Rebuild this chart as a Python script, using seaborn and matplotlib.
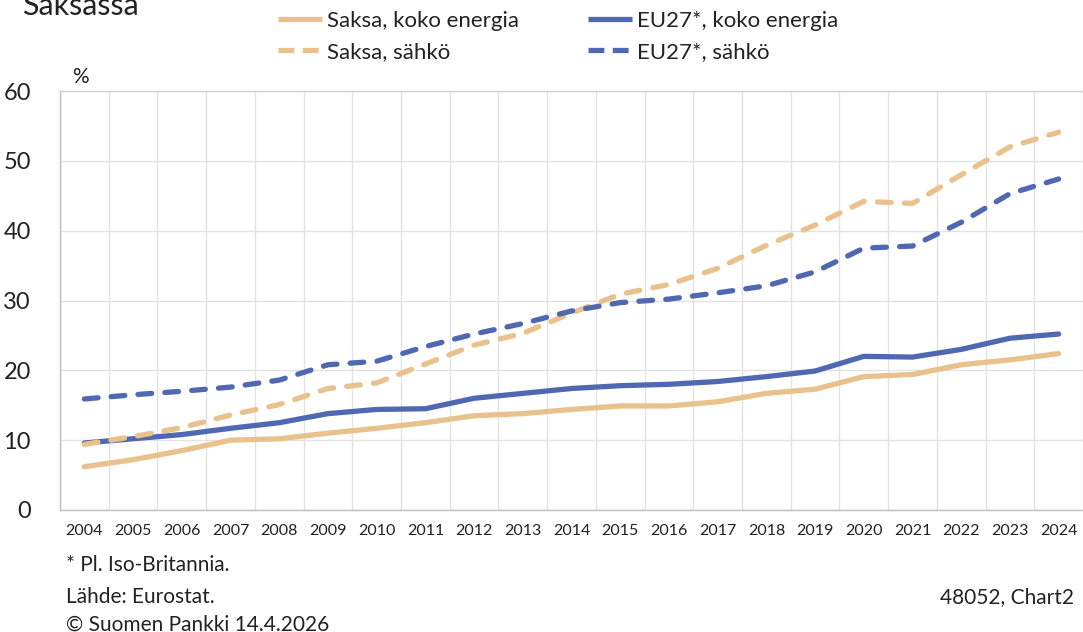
import matplotlib
matplotlib.use("Agg")
import matplotlib.pyplot as plt
from matplotlib.lines import Line2D
import numpy as np
import pandas as pd
import seaborn as sns

years = list(range(2004, 2025))
de_total = [6.2, 7.2, 8.5, 10.0, 10.2, 11.0, 11.7, 12.5, 13.5, 13.8, 14.4,
            14.9, 14.9, 15.5, 16.7, 17.3, 19.1, 19.4, 20.8, 21.5, 22.4]
eu_total = [9.6, 10.2, 10.8, 11.7, 12.5, 13.8, 14.4, 14.5, 16.0, 16.7, 17.4,
            17.8, 18.0, 18.4, 19.1, 19.9, 22.0, 21.9, 23.0, 24.6, 25.2]
de_elec = [9.4, 10.5, 11.8, 13.6, 15.1, 17.4, 18.2, 20.9, 23.6, 25.3, 28.2,
           30.9, 32.3, 34.6, 37.9, 40.8, 44.2, 43.9, 48.0, 52.0, 54.1]
eu_elec = [15.9, 16.5, 17.0, 17.6, 18.6, 20.8, 21.3, 23.4, 25.2, 26.7, 28.5,
           29.7, 30.2, 31.1, 32.1, 34.1, 37.5, 37.8, 41.2, 45.3, 47.4]
series_names = ["Saksa, koko energia", "EU27*, koko energia",
                "Saksa, sähkö", "EU27*, sähkö"]
yticks = [0, 10, 20, 30, 40, 50, 60]

TAN = "#E8C18C"
BLUE = "#5068B2"

sns.set_theme(style="white")
plt.rcParams['font.family'] = ['Lato', 'DejaVu Sans']

rows = []
for name, vals in zip(series_names, [de_total, eu_total, de_elec, eu_elec]):
    for i, (yr, v) in enumerate(zip(years, vals)):
        rows.append({"pos": i, "year": yr, "value": v, "series": name})
df = pd.DataFrame(rows)

fig = plt.figure(figsize=(10.83, 6.32), dpi=100)
ax = fig.add_axes([60 / 1083, 1 - 510 / 632, 1 - 60 / 1083, (510 - 91) / 632])

palette = {series_names[0]: TAN, series_names[1]: BLUE,
           series_names[2]: TAN, series_names[3]: BLUE}
dash_on = (2.6, 2.5)
dashes = {series_names[0]: "", series_names[1]: "",
          series_names[2]: dash_on, series_names[3]: dash_on}

sns.lineplot(data=df, x="pos", y="value", hue="series", style="series",
             palette=palette, dashes=dashes, linewidth=3.8, ax=ax,
             legend=False, sort=False)
for ln in ax.lines:
    ln.set_dash_capstyle("round")
    ln.set_solid_capstyle("round")

ax.set_xlim(-0.5, len(years) - 0.5)
ax.set_ylim(0, 60)
ax.set_yticks(yticks)
ax.set_yticklabels([str(t) for t in yticks], fontsize=17, color="#222222")
ax.set_xticks(range(len(years)))
ax.set_xticklabels([str(y) for y in years], fontsize=11.5, color="#222222")
ax.set_xticks(np.arange(-0.5, len(years), 1.0), minor=True)
ax.tick_params(axis="x", which="major", length=0, pad=10)
ax.tick_params(axis="x", which="minor", length=5, width=1, color="#BFBFBF",
               direction="out")
ax.tick_params(axis="y", length=0, pad=21)
ax.set_xlabel("")
ax.set_ylabel("")

ax.grid(False)
ax.grid(True, axis="y", which="major", color="#E3E3E3", linewidth=1)
ax.grid(True, axis="x", which="minor", color="#E3E3E3", linewidth=1)
ax.set_axisbelow(True)
ax.spines["right"].set_visible(False)
for s in ["left", "bottom", "top"]:
    ax.spines[s].set_color("#BFBFBF")
    ax.spines[s].set_linewidth(1)
ax.spines["top"].set_color("#D0D0D0")

for lab in ax.get_yticklabels():
    lab.set_horizontalalignment("right")

fig.text(72 / 1083, 1 - 77 / 632, "%", fontsize=15,
         color="#222222", ha="left", va="center")

handles = [
    Line2D([], [], color=TAN, lw=3.8, solid_capstyle="butt"),
    Line2D([], [], color=TAN, lw=3.8, dashes=(3.0, 1.6), dash_capstyle="butt"),
    Line2D([], [], color=BLUE, lw=3.8, solid_capstyle="butt"),
    Line2D([], [], color=BLUE, lw=3.8, dashes=(3.0, 1.6), dash_capstyle="butt"),
]
labels = [series_names[0], series_names[2], series_names[1], series_names[3]]
fig.legend(handles, labels, loc="upper left", ncol=2,
           bbox_to_anchor=(278 / 1083, 1 - 11 / 632), frameon=False,
           fontsize=16, handlelength=2.0, handletextpad=0.2,
           columnspacing=3.1, labelspacing=0.5, borderpad=0,
           borderaxespad=0, labelcolor="#222222")

fig.text(22 / 1083, 1 - 6 / 632, "Saksassa", fontsize=22, color="#222222",
         ha="left", va="center")

fig.text(66 / 1083, 1 - 565 / 632, "* Pl. Iso-Britannia.", fontsize=15,
         color="#222222", ha="left", va="center")
fig.text(66 / 1083, 1 - 597 / 632, "Lähde: Eurostat.", fontsize=15,
         color="#222222", ha="left", va="center")
fig.text(66 / 1083, 1 - 625 / 632, "© Suomen Pankki 14.4.2026", fontsize=15,
         color="#222222", ha="left", va="center")
fig.text(1074 / 1083, 1 - 597 / 632, "48052, Chart2", fontsize=15,
         color="#222222", ha="right", va="center")

fig.savefig("out.png", dpi=100)
